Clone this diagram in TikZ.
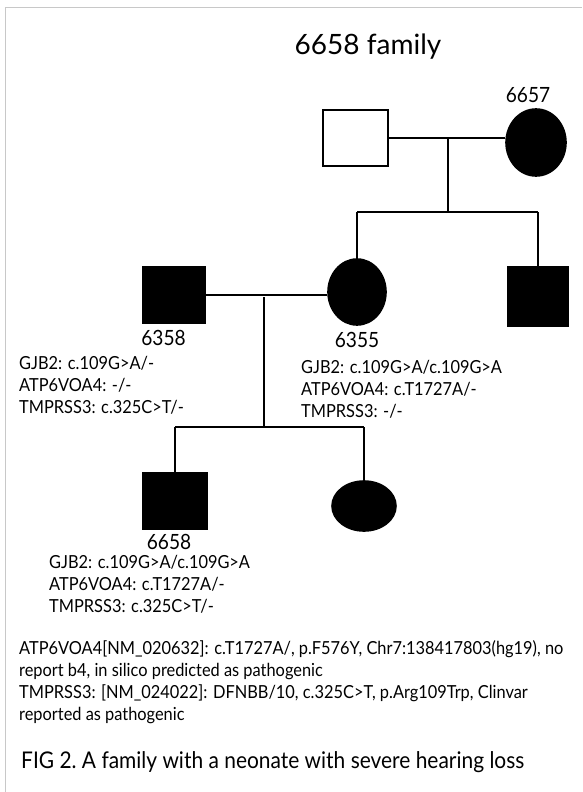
\documentclass[tikz,border=0pt]{standalone}
\usepackage{fontspec}
\setmainfont{Lato}
\newfontfamily\narrowfont{Lato}[FakeStretch=0.91]
\usetikzlibrary{shapes.geometric,calc}
\definecolor{framegray}{HTML}{C8C8C8}

\begin{document}
\begin{tikzpicture}[x=1pt, y=-1pt,
      male/.style={draw, line width=1.6pt, inner sep=0pt, minimum width=64pt, minimum height=56pt},
      female/.style={ellipse, draw, fill=black, line width=1.6pt, inner sep=0pt},
      rel/.style={line width=1.6pt},
      idlab/.style={anchor=base, inner sep=0pt, font=\narrowfont\fontsize{21}{24}\selectfont},
      geno/.style={anchor=base west, inner sep=0pt, align=left, font=\narrowfont\fontsize{18}{22}\selectfont}]
    \useasboundingbox (0,0) rectangle (582,792);
    \fill[white] (0,0) rectangle (582,792);
    \draw[framegray, line width=1pt] (5.6,792) -- (5.6,8) -- (582,8);

    \node[anchor=base, font=\fontsize{28}{32}\selectfont] (title) at (368,55) {6658 family};

    % first generation
    \node[male, minimum width=65pt] (gf) at (355.5,138) {};
    \node[female, minimum width=60pt, minimum height=67pt] (gm) at (536,142.5) {};
    \node[idlab] (gmid) at (528,102) {6657};
    \coordinate (m1) at (448,138);
    \coordinate (s1) at (448,212);
    \draw[rel] (gf.east) -- (gf.east -| gm.west);
    \draw[rel] (m1) -- (s1);

    % second generation
    \node[male, fill=black, minimum width=62pt, minimum height=57pt] (fa) at (174,295) {};
    \node[female, minimum width=58pt, minimum height=66pt] (mo) at (357,292) {};
    \node[male, fill=black, minimum width=60pt, minimum height=59pt] (unc) at (538,296.5) {};
    \draw[rel] (s1 -| mo) -- (s1 -| unc);
    \draw[rel] (s1 -| mo) -- (mo.north);
    \draw[rel] (s1 -| unc) -- (unc.north);
    \coordinate (m2) at (264,297);
    \coordinate (s2) at (264,427);
    \draw[rel] (fa.east) -- (fa.east -| mo.west);
    \draw[rel] (m2) -- (s2);

    \node[idlab] (faid) at (163.5,345) {6358};
    \node[idlab] (moid) at (357,347) {6355};
    % base anchor sits on the last line
    \node[geno] (fageno) at (19,413) {GJB2: c.109G>A/-\\ATP6VOA4: -/-\\TMPRSS3: c.325C>T/-};
    \node[geno] (mogeno) at (301,417) {GJB2: c.109G>A/c.109G>A\\ATP6VOA4: c.T1727A/-\\TMPRSS3: -/-};

    % third generation
    \node[male, fill=black, minimum width=64pt, minimum height=56pt] (son) at (175,501) {};
    \node[female, minimum width=64pt, minimum height=50pt] (dau) at (364,506) {};
    \draw[rel] (s2 -| son) -- (s2 -| dau);
    \draw[rel] (s2 -| son) -- (son.north);
    \draw[rel] (s2 -| dau) -- (dau.north);

    \node[idlab] (sonid) at (169,549) {6658};
    \node[geno] (songeno) at (49,612) {GJB2: c.109G>A/c.109G>A\\ATP6VOA4: c.T1727A/-\\TMPRSS3: c.325C>T/-};

    % notes and caption
    \node[geno] (notes) at (19,720) {ATP6VOA4[NM\_020632]: c.T1727A/, p.F576Y, Chr7:138417803(hg19), no\\
      report b4, in silico predicted as pathogenic\\
      TMPRSS3: [NM\_024022]: DFNBB/10, c.325C>T, p.Arg109Trp, Clinvar\\
      reported as pathogenic};
    \node[anchor=base west, inner sep=0pt, font=\narrowfont\fontsize{23}{26}\selectfont] (cap) at (21,768)
      {FIG 2.\ A family with a neonate with severe hearing loss};
  \end{tikzpicture}
\end{document}
